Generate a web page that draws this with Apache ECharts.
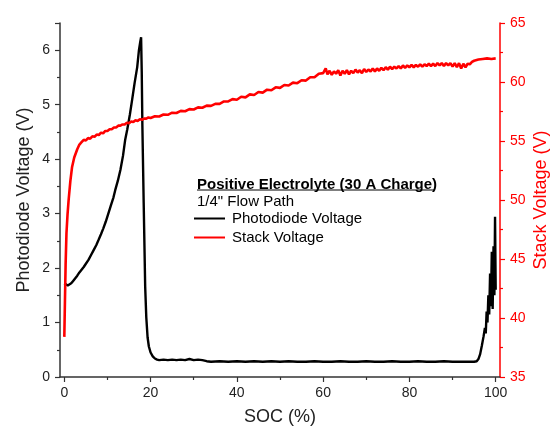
<!DOCTYPE html>
<html>
<head>
<meta charset="utf-8">
<script src="https://cdn.jsdelivr.net/npm/echarts@6/dist/echarts.min.js"></script>
<style>
  html, body { margin: 0; padding: 0; background: #fff; }
  #chart { width: 551px; height: 432px; }
</style>
</head>
<body>
<div id="chart"></div>
<script>
// tick positions
const socTicks = [0, 20, 40, 60, 80, 100];
const socMinorTicks = [10, 30, 50, 70, 90];

// photodiode voltage (V) vs SOC (%)
const pdData = [
    [0, 1.72], [0.4, 1.69], [0.8, 1.68], [1.2, 1.70], [1.6, 1.72], [2.0, 1.76], [2.5, 1.81],
    [3.0, 1.86], [3.5, 1.92], [4.0, 1.97], [4.5, 2.02], [5.0, 2.08], [5.6, 2.15], [6.2, 2.24],
    [6.8, 2.33], [7.4, 2.42], [7.9, 2.51], [8.5, 2.62], [9.0, 2.72], [9.6, 2.85], [10.2, 3.0],
    [10.8, 3.15], [11.4, 3.30], [11.8, 3.43], [12.4, 3.6], [13.0, 3.8], [13.6, 4.06], [14.1, 4.35],
    [14.6, 4.55], [15.2, 4.82], [15.7, 5.08], [16.3, 5.4], [16.9, 5.69], [17.3, 6.0], [17.6, 6.15],
    [17.8, 6.24], [17.95, 5.6], [18.1, 4.6], [18.4, 3.2], [18.75, 1.65], [19.0, 1.1], [19.3, 0.73],
    [19.6, 0.56], [20.0, 0.45], [20.5, 0.38], [21.0, 0.34], [21.5, 0.32], [22, 0.31], [23, 0.32],
    [24, 0.31], [25, 0.32], [26, 0.31], [27, 0.32], [28, 0.31], [29, 0.33], [30, 0.31], [31, 0.32],
    [32, 0.31], [33, 0.29], [34, 0.28], [36, 0.29], [38, 0.28], [40, 0.29], [42, 0.28], [44, 0.29],
    [46, 0.28], [48, 0.29], [50, 0.28], [52, 0.29], [54, 0.28], [56, 0.28], [58, 0.29], [60, 0.28],
    [62, 0.28], [64, 0.29], [66, 0.28], [68, 0.28], [70, 0.29], [72, 0.28], [74, 0.28], [76, 0.29],
    [78, 0.28], [80, 0.28], [82, 0.29], [84, 0.28], [86, 0.28], [88, 0.29], [90, 0.28], [92, 0.28],
    [94, 0.28], [95, 0.28], [95.6, 0.29], [96, 0.33], [96.4, 0.42], [96.8, 0.58], [97.2, 0.75],
    [97.5, 0.9], [97.7, 0.8], [97.9, 1.2], [98.1, 1.0], [98.3, 1.5], [98.5, 1.15], [98.7, 1.9],
    [98.9, 1.3], [99.1, 2.3], [99.3, 1.25], [99.5, 2.4], [99.7, 1.5], [99.85, 2.94], [100, 1.6]
];

// stack voltage (V) vs SOC (%)
const stackData = [
    [0, 38.4], [0.15, 41.5], [0.3, 44.5], [0.5, 47.2], [0.75, 48.8], [1, 50.0], [1.4, 51.6],
    [1.8, 52.8], [2.3, 53.6], [3, 54.3], [3.5, 54.7], [4, 54.9], [4.5, 55.1], [5, 55.05],
    [5.5, 55.25], [6, 55.2], [6.5, 55.4], [7, 55.35], [7.5, 55.55], [8, 55.5], [8.5, 55.7],
    [9, 55.65], [9.5, 55.85], [10, 55.85], [10.5, 56.0], [11, 56.0], [11.5, 56.15], [12, 56.15],
    [12.5, 56.3], [13, 56.3], [13.5, 56.4], [14, 56.4], [14.5, 56.55], [15, 56.5], [15.5, 56.65],
    [16, 56.6], [16.5, 56.75], [17, 56.7], [17.5, 56.85], [18, 56.8], [18.5, 56.9], [19, 56.9],
    [19.5, 57.0], [20, 56.95], [21, 57.1], [22, 57.08], [23, 57.25], [24, 57.22], [25, 57.4],
    [26, 57.37], [27, 57.55], [28, 57.52], [29, 57.7], [30, 57.67], [31, 57.85], [32, 57.82],
    [33, 58.0], [34, 57.98], [35, 58.15], [36, 58.15], [37, 58.35], [38, 58.35], [39, 58.55],
    [40, 58.5], [41, 58.75], [42, 58.7], [43, 58.95], [44, 58.9], [45, 59.15], [46, 59.1],
    [47, 59.35], [48, 59.3], [49, 59.55], [50, 59.5], [51, 59.75], [52, 59.7], [53, 59.95],
    [54, 59.9], [55, 60.15], [56, 60.12], [57, 60.4], [58, 60.4], [59, 60.7], [60, 60.75],
    [60.6, 61.15], [61, 60.65], [61.5, 60.95], [62, 60.6], [62.5, 60.9], [63, 60.7], [63.5, 61.0],
    [64, 60.55], [64.5, 60.95], [65, 60.7], [65.5, 61.0], [66, 60.65], [66.5, 60.95], [67, 60.75],
    [67.5, 61.05], [68, 60.8], [68.5, 61.0], [69, 60.75], [69.5, 61.1], [70, 60.85], [70.5, 61.05],
    [71, 60.9], [71.5, 61.15], [72, 60.9], [72.5, 61.15], [73, 60.95], [73.5, 61.2], [74, 61.0],
    [74.5, 61.25], [75, 61.05], [75.5, 61.3], [76, 61.1], [76.5, 61.3], [77, 61.15], [77.5, 61.35],
    [78, 61.15], [78.5, 61.4], [79, 61.2], [79.5, 61.4], [80, 61.25], [80.5, 61.45], [81, 61.25],
    [81.5, 61.45], [82, 61.3], [82.5, 61.5], [83, 61.3], [83.5, 61.5], [84, 61.35], [84.5, 61.55],
    [85, 61.35], [85.5, 61.55], [86, 61.35], [86.5, 61.6], [87, 61.4], [87.5, 61.6], [88, 61.35],
    [88.5, 61.6], [89, 61.4], [89.5, 61.6], [90, 61.3], [90.5, 61.6], [91, 61.25], [91.5, 61.6],
    [92, 61.15], [92.5, 61.55], [93, 61.25], [93.5, 61.55], [94, 61.5], [94.5, 61.7], [95, 61.8],
    [96, 61.9], [97, 61.95], [98, 62.0], [99, 61.95], [100, 62.0]
];

const FONT = '"Liberation Sans", Arial, sans-serif';
const AXIS_DARK = '#333';
const RED = '#ff0000';

let myChart = echarts.init(document.getElementById('chart'));

let option = {
    animation: false,
    backgroundColor: '#fff',
    textStyle: {fontFamily: FONT},
    grid: {left: 60, right: 51, top: 23, bottom: 55, containLabel: false, outerBoundsMode: 'none'},
    legend: {
        orient: 'vertical',
        left: 194,
        top: 209,
        padding: 0,
        itemGap: 0,
        itemWidth: 31,
        itemHeight: 2,
        icon: 'rect',
        textStyle: {fontSize: 15, color: '#000', lineHeight: 19, padding: [0, 0, 0, 2]},
        data: ['Photodiode Voltage', 'Stack Voltage']
    },
    graphic: [
        {
            type: 'text', left: 197, top: 177,
            style: {text: 'Positive Electrolyte (30 A Charge)', font: 'bold 15px ' + FONT, fill: '#000'}
        },
        {
            type: 'line',
            shape: {x1: 197, y1: 190, x2: 434, y2: 190},
            style: {stroke: '#000', lineWidth: 1.2}
        },
        {
            type: 'text', left: 197, top: 194,
            style: {text: '1/4" Flow Path', font: '15px ' + FONT, fill: '#000'}
        }
    ],
    xAxis: [
        {
            type: 'value',
            min: -1,
            max: 101,
            name: 'SOC (%)',
            nameLocation: 'middle',
            nameGap: 31,
            nameMoveOverlap: false,
            nameTextStyle: {fontSize: 18, color: '#222'},
            splitLine: {show: false},
            axisLine: {show: true, onZero: false, lineStyle: {color: AXIS_DARK, width: 1.5}},
            axisTick: {show: true, inside: false, length: 5, customValues: socTicks, lineStyle: {color: AXIS_DARK, width: 1.2}},
            axisLabel: {fontSize: 14, color: '#222', margin: 9, customValues: socTicks}
        },
        {
            // minor ticks on the bottom axis
            type: 'value',
            position: 'bottom',
            min: -1,
            max: 101,
            splitLine: {show: false},
            axisLine: {show: false, onZero: false},
            axisTick: {show: true, inside: false, length: 3, customValues: socMinorTicks, lineStyle: {color: AXIS_DARK, width: 1.2}},
            axisLabel: {show: false}
        }
    ],
    yAxis: [
        {
            type: 'value',
            position: 'left',
            min: 0,
            max: 6.5,
            interval: 1,
            name: 'Photodiode Voltage (V)',
            nameLocation: 'middle',
            nameGap: 27,
            nameMoveOverlap: false,
            nameRotate: 90,
            nameTextStyle: {fontSize: 18, color: '#222'},
            splitLine: {show: false},
            axisLine: {show: true, onZero: false, lineStyle: {color: AXIS_DARK, width: 1.5}},
            axisTick: {show: true, inside: false, length: 5, lineStyle: {color: AXIS_DARK, width: 1.2}},
            minorTick: {show: true, splitNumber: 2, length: 3, lineStyle: {color: AXIS_DARK, width: 1.2}},
            axisLabel: {fontSize: 14, color: '#222', margin: 10, showMaxLabel: false}
        },
        {
            type: 'value',
            position: 'right',
            min: 35,
            max: 65,
            interval: 5,
            name: 'Stack Voltage (V)',
            nameLocation: 'middle',
            nameGap: 32,
            nameMoveOverlap: false,
            nameRotate: 90,
            nameTextStyle: {fontSize: 18, color: RED},
            splitLine: {show: false},
            axisLine: {show: true, onZero: false, lineStyle: {color: RED, width: 1.5}},
            axisTick: {show: true, inside: false, length: 5, lineStyle: {color: RED, width: 1.2}},
            minorTick: {show: true, splitNumber: 2, length: 3, lineStyle: {color: RED, width: 1.2}},
            axisLabel: {fontSize: 14, color: RED, margin: 10}
        }
    ],
    series: [
        {
            name: 'Photodiode Voltage',
            type: 'line',
            xAxisIndex: 0,
            yAxisIndex: 0,
            data: pdData,
            showSymbol: false,
            color: '#000',
            lineStyle: {color: '#000', width: 2.4}
        },
        {
            name: 'Stack Voltage',
            type: 'line',
            xAxisIndex: 0,
            yAxisIndex: 1,
            data: stackData,
            showSymbol: false,
            color: RED,
            lineStyle: {color: RED, width: 2.6}
        }
    ]
};

myChart.setOption(option);
</script>
</body>
</html>
